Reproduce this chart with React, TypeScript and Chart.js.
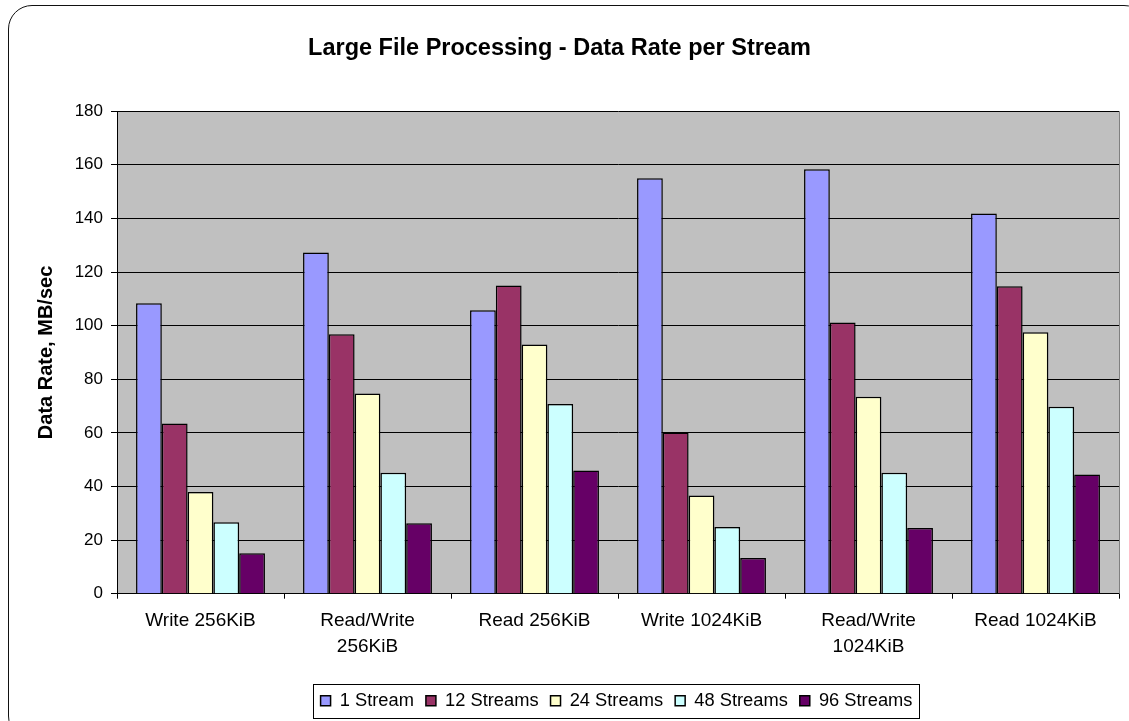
import React, { useEffect, useRef } from "react";
import { Chart, registerables } from "chart.js";

Chart.register(...registerables);

const categories: (string | string[])[] = [
  "Write 256KiB",
  ["Read/Write", "256KiB"],
  "Read 256KiB",
  "Write 1024KiB",
  ["Read/Write", "1024KiB"],
  "Read 1024KiB",
];
const seriesNames = ["1 Stream", "12 Streams", "24 Streams", "48 Streams", "96 Streams"];
const oneStream = [108.4, 127.3, 105.7, 155.0, 158.3, 141.8];
const twelveStreams = [63.5, 96.8, 115.0, 60.1, 101.2, 114.7];
const twentyFourStreams = [37.9, 74.7, 93.0, 36.6, 73.5, 97.5];
const fortyEightStreams = [26.7, 45.1, 70.8, 24.9, 45.1, 69.7];
const ninetySixStreams = [15.1, 26.3, 46.0, 13.3, 24.5, 44.5];
const seriesColors = ["#9999FF", "#993366", "#FFFFCC", "#CCFFFF", "#660066"];
const yTicks = { min: 0, max: 180, step: 20 };

const FONT = "'Liberation Sans', Arial, sans-serif";

const plotBg = {
  id: "plotBg",
  beforeDraw(chart: any) {
    const { ctx, chartArea: a } = chart;
    ctx.save();
    ctx.fillStyle = "#C0C0C0";
    ctx.fillRect(a.left, a.top, a.right - a.left, a.bottom - a.top);
    ctx.restore();
  },
  afterDatasetsDraw(chart: any) {
    const { ctx, chartArea: a } = chart;
    ctx.save();
    ctx.strokeStyle = "#808080";
    ctx.lineWidth = 1;
    ctx.beginPath();
    ctx.moveTo(Math.round(a.right) + 0.5, a.top);
    ctx.lineTo(Math.round(a.right) + 0.5, a.bottom);
    ctx.stroke();
    ctx.restore();
  },
};

const legendShift = {
  id: "legendShift",
  afterLayout(chart: any) {
    const lg = chart.legend;
    if (!lg) return;
    lg.left += 57;
    lg.right += 57;
  },
};

const legendBox = {
  id: "legendBox",
  afterDraw(chart: any) {
    const lg = chart.legend;
    if (!lg || !lg.legendHitBoxes || !lg.legendHitBoxes.length) return;
    const hb = lg.legendHitBoxes;
    let l = Infinity, r = -Infinity, t = Infinity, b = -Infinity;
    hb.forEach((h: any) => {
      l = Math.min(l, h.left);
      r = Math.max(r, h.left + h.width);
      t = Math.min(t, h.top);
      b = Math.max(b, h.top + h.height);
    });
    const cy = (t + b) / 2;
    const { ctx } = chart;
    ctx.save();
    ctx.strokeStyle = "#000";
    ctx.lineWidth = 1;
    ctx.strokeRect(Math.round(l - 8) + 0.5, Math.round(cy - 17) + 0.5, Math.round(r - l + 14), 34);
    ctx.restore();
  },
};

export default function App() {
  const ref = useRef<HTMLCanvasElement | null>(null);
  useEffect(() => {
    if (!ref.current) return;
    const values = [oneStream, twelveStreams, twentyFourStreams, fortyEightStreams, ninetySixStreams];
    const chart = new Chart(ref.current, {
      type: "bar",
      data: {
        labels: categories,
        datasets: values.map((v, i) => ({
          label: seriesNames[i],
          data: v,
          backgroundColor: seriesColors[i],
          borderColor: "#000",
          borderWidth: 1.5,
          borderSkipped: "bottom",
          categoryPercentage: 0.772,
          barPercentage: 1.0,
        })),
      },
      options: {
        animation: false,
        responsive: false,
        devicePixelRatio: 1,
        layout: { padding: { left: 0, right: 10, top: 0, bottom: 1 } },
        plugins: {
          title: {
            display: true,
            text: "Large File Processing - Data Rate per Stream",
            color: "#000",
            font: { family: FONT, size: 23.5, weight: "bold", lineHeight: 1.2 },
            padding: { top: 34, bottom: 49 },
          },
          legend: {
            display: true,
            position: "bottom",
            labels: {
              color: "#000",
              font: { family: FONT, size: 18.3 },
              boxWidth: 10,
              boxHeight: 10,
              padding: 12,
            },
          },
          tooltip: { enabled: false },
        },
        scales: {
          x: {
            grid: {
              display: true,
              drawOnChartArea: false,
              drawTicks: true,
              tickLength: 5,
              color: "#000",
              offset: true,
            },
            border: { display: true, color: "#000", width: 1 },
            ticks: {
              color: "#000",
              font: { family: FONT, size: 19, lineHeight: 1.36 },
              padding: 9,
              maxRotation: 0,
              autoSkip: false,
            },
            afterFit(scale: any) {
              scale.height = 86;
            },
          },
          y: {
            min: yTicks.min,
            max: yTicks.max,
            grid: {
              color: "#000",
              lineWidth: 1,
              drawTicks: true,
              tickLength: 6,
            },
            border: { display: true, color: "#000", width: 1 },
            ticks: {
              stepSize: yTicks.step,
              color: "#000",
              font: { family: FONT, size: 17 },
              padding: 8,
            },
            title: {
              display: true,
              text: "Data Rate, MB/sec",
              color: "#000",
              font: { family: FONT, size: 20, weight: "bold", lineHeight: 1.2 },
              padding: { top: 34, bottom: 0 },
            },
            afterFit(scale: any) {
              scale.width = 117;
            },
          },
        },
      } as any,
      plugins: [plotBg, legendShift, legendBox],
    });
    return () => chart.destroy();
  }, []);

  return (
    <div>
      <div
        style={{
          position: "fixed",
          left: 8,
          top: 5,
          width: 1140,
          height: 735,
          border: "1.5px solid #111",
          borderRadius: 24,
          boxSizing: "border-box",
          pointerEvents: "none",
        }}
      />
      <canvas
        ref={ref}
        width={1129}
        height={721}
        style={{ position: "fixed", left: 0, top: 0, width: 1129, height: 721, display: "block" }}
      />
    </div>
  );
}
